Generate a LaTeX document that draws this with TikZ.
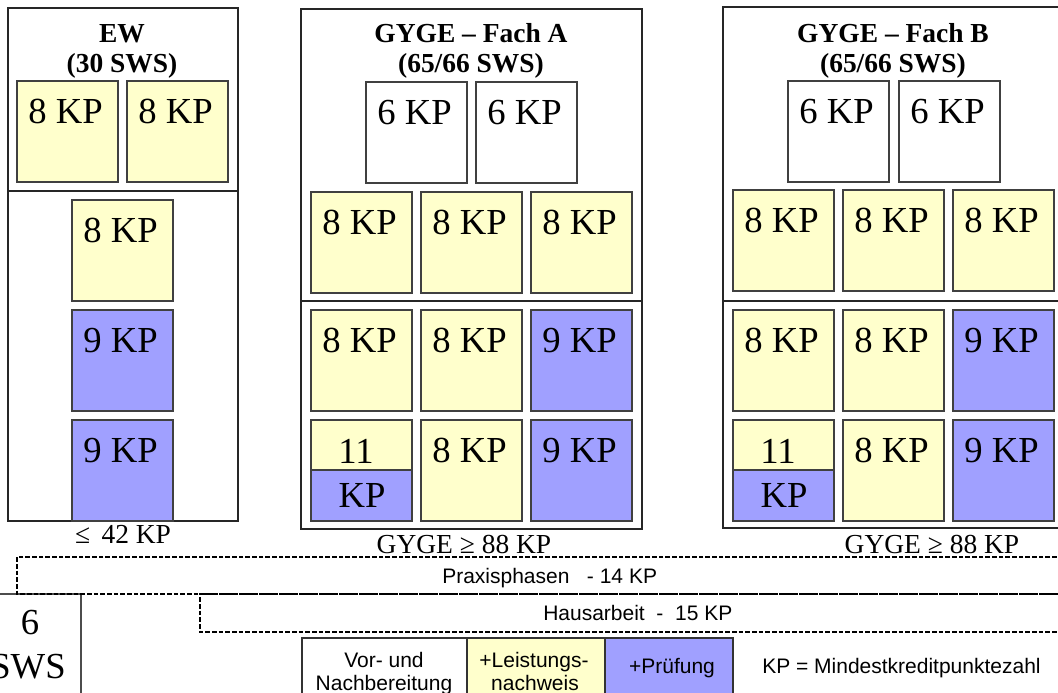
\documentclass[tikz,border=0pt]{standalone}
\usepackage{fontspec}
\setmainfont{Liberation Serif}
\newfontfamily\arialf{Liberation Sans}
\definecolor{kpyel}{RGB}{255,255,204}
\definecolor{kpblu}{RGB}{160,160,255}
\tikzset{
  boxline/.style={draw=black!75, line width=0.9pt},
  colline/.style={draw=black!85, line width=0.9pt},
  kptext/.style={font=\fontsize{27.5}{32}\selectfont, anchor=base, inner sep=0pt},
  titletext/.style={font=\fontsize{20.6}{24}\selectfont\bfseries, anchor=base, inner sep=0pt},
  sumtext/.style={font=\fontsize{20.6}{24}\selectfont, anchor=base, inner sep=0pt},
  sanstext/.style={font=\fontsize{15.75}{19}\selectfont\arialf, anchor=base, inner sep=0pt},
  dashline/.style={draw=black, line width=1.1pt, dash pattern=on 3.5pt off 1.5pt},
}
\newcommand\kpBox[5]{%
  \draw[boxline, fill=#3] (#1,#2) rectangle ++(101,101);
  \node[kptext] (#5) at (#1+48.5,#2+42) {#4};
}
\newcommand\kpSplit[3]{%
  \fill[kpyel] (#1,#2) rectangle ++(101,50);
  \fill[kpblu] (#1,#2+50) rectangle ++(101,51);
  \draw[boxline] (#1,#2+50) -- ++(101,0);
  \draw[boxline] (#1,#2) rectangle ++(101,101);
  \node[kptext] (#3a) at (#1+45,#2+43) {11};
  \node[kptext] (#3b) at (#1+51,#2+87) {KP};
}
\begin{document}
\begin{tikzpicture}[x=0.75pt, y=-0.75pt]
\useasboundingbox (0,0) rectangle (1058,693);
\clip (0,0) rectangle (1058,693);
\fill[white] (0,0) rectangle (1058,693);

% ---------- EW ----------
\draw[colline, fill=white] (8,8) rectangle (238,521);
\draw[colline] (8,191) -- (238,191);
\node[titletext] (ewt1) at (122,42) {EW};
\node[titletext] (ewt2) at (122,72) {(30 SWS)};
\kpBox{17}{81}{kpyel}{8 KP}{ew1}
\kpBox{127}{81}{kpyel}{8 KP}{ew2}
\kpBox{72}{200}{kpyel}{8 KP}{ew3}
\kpBox{72}{310}{kpblu}{9 KP}{ew4}
\kpBox{72}{420}{kpblu}{9 KP}{ew5}
\node[sumtext] (ewsum) at (123,543) {≤\, 42 KP};

% ---------- GYGE A ----------
\draw[colline, fill=white] (301,9) rectangle (642,529);
\draw[colline] (301,301) -- (642,301);
\node[titletext] (at1) at (471,42) {GYGE – Fach A};
\node[titletext] (at2) at (471,72) {(65/66 SWS)};
\kpBox{366}{82}{white}{6 KP}{a1}
\kpBox{476}{82}{white}{6 KP}{a2}
\kpBox{311}{192}{kpyel}{8 KP}{a3}
\kpBox{421}{192}{kpyel}{8 KP}{a4}
\kpBox{531}{192}{kpyel}{8 KP}{a5}
\kpBox{311}{310}{kpyel}{8 KP}{a6}
\kpBox{421}{310}{kpyel}{8 KP}{a7}
\kpBox{531}{310}{kpblu}{9 KP}{a8}
\kpSplit{311}{420}{a9}
\kpBox{421}{420}{kpyel}{8 KP}{a10}
\kpBox{531}{420}{kpblu}{9 KP}{a11}
\node[sumtext] (asum) at (464,553) {GYGE ≥ 88 KP};

% ---------- GYGE B ----------
\draw[colline, fill=white] (723,7) rectangle (1064,528);
\draw[colline] (723,301) -- (1064,301);
\node[titletext] (bt1) at (893,42) {GYGE – Fach B};
\node[titletext] (bt2) at (893,72) {(65/66 SWS)};
\kpBox{788}{81}{white}{6 KP}{b1}
\kpBox{899}{81}{white}{6 KP}{b2}
\kpBox{733}{190}{kpyel}{8 KP}{b3}
\kpBox{843}{190}{kpyel}{8 KP}{b4}
\kpBox{953}{190}{kpyel}{8 KP}{b5}
\kpBox{733}{310}{kpyel}{8 KP}{b6}
\kpBox{843}{310}{kpyel}{8 KP}{b7}
\kpBox{953}{310}{kpblu}{9 KP}{b8}
\kpSplit{733}{420}{b9}
\kpBox{843}{420}{kpyel}{8 KP}{b10}
\kpBox{953}{420}{kpblu}{9 KP}{b11}
\node[sumtext] (bsum) at (932,553) {GYGE ≥ 88 KP};

% ---------- 6 SWS ----------
\draw[draw=black!70, line width=0.8pt] (-20,594) rectangle (81,720);
\node[kptext] (sws1) at (30,634) {6};
\node[kptext] (sws2) at (28,678) {SWS};

% ---------- dashed bands ----------
\draw[dashline] (1070,557) -- (17,557) -- (17,594) -- (1070,594);
\draw[dashline] (1070,594) -- (200,594) -- (200,632) -- (1070,632);
\node[sanstext, anchor=base west] (praxis) at (442,583) {Praxisphasen~~~- 14 KP};
\node[sanstext, anchor=base west] (haus) at (543,620) {Hausarbeit~~-~~15 KP};

% ---------- legend ----------
\draw[draw=black!80, line width=0.8pt, fill=white] (302,638) rectangle (467,720);
\draw[draw=black!80, line width=0.8pt, fill=kpyel] (467,638) rectangle (605,720);
\draw[draw=black!80, line width=0.8pt, fill=kpblu] (605,638) rectangle (733,720);
\node[sanstext] (leg1a) at (384,667) {Vor- und};
\node[sanstext] (leg1b) at (384,690) {Nachbereitung};
\node[sanstext] (leg2a) at (534,667) {+Leistungs-};
\node[sanstext] (leg2b) at (535,690) {nachweis};
\node[sanstext] (leg3) at (672,673) {+Prüfung};
\node[sanstext, anchor=base west] (legkp) at (762,673) {KP = Mindestkreditpunktezahl};
\end{tikzpicture}
\end{document}
